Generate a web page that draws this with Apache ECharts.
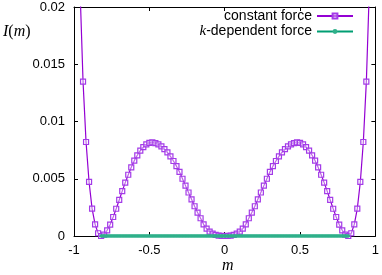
<!DOCTYPE html>
<html>
<head>
<meta charset="utf-8">
<script src="https://cdn.jsdelivr.net/npm/echarts@6/dist/echarts.min.js"></script>
<style>html,body{margin:0;padding:0;background:#fff}#c{width:382px;height:275px}</style>
</head>
<body>
<div id="c"></div>
<script>
// ---- data ----
const mConst = [-1.00,-0.98,-0.96,-0.94,-0.92,-0.90,-0.88,-0.86,-0.84,-0.82,-0.80,-0.78,-0.76,-0.74,-0.72,-0.70,-0.68,-0.66,-0.64,-0.62,-0.60,-0.58,-0.56,-0.54,-0.52,-0.50,-0.48,-0.46,-0.44,-0.42,-0.40,-0.38,-0.36,-0.34,-0.32,-0.30,-0.28,-0.26,-0.24,-0.22,-0.20,-0.18,-0.16,-0.14,-0.12,-0.10,-0.08,-0.06,-0.04,-0.02,0.00,
0.02,0.04,0.06,0.08,0.10,0.12,0.14,0.16,0.18,0.20,0.22,0.24,0.26,0.28,0.30,0.32,0.34,0.36,0.38,0.40,0.42,0.44,0.46,0.48,0.50,0.52,0.54,0.56,0.58,0.60,0.62,0.64,0.66,0.68,0.70,0.72,0.74,0.76,0.78,0.80,0.82,0.84,0.86,0.88,0.90,0.92,0.94,0.96,0.98,1.00];
const iConst = [0.052,0.034,0.0216,0.01348,0.00821,0.00472,0.00239,0.00102,0.00024,0.00000,0.00012,0.00050,0.00100,0.00166,0.00238,0.00315,0.00392,0.00466,0.00535,0.00600,0.00658,0.00705,0.00745,0.00777,0.00800,0.00814,0.00818,0.00812,0.00800,0.00782,0.00758,0.00730,0.00695,0.00655,0.00610,0.00560,0.00500,0.00440,0.00380,0.00320,0.00260,0.00205,0.00155,0.00102,0.00065,0.00038,0.00020,0.00009,0.00003,0.00001,0.00000,
0.00001,0.00003,0.00009,0.00020,0.00038,0.00065,0.00102,0.00155,0.00205,0.00260,0.00320,0.00380,0.00440,0.00500,0.00560,0.00610,0.00655,0.00695,0.00730,0.00758,0.00782,0.00800,0.00812,0.00818,0.00814,0.00800,0.00777,0.00745,0.00705,0.00658,0.00600,0.00535,0.00466,0.00392,0.00315,0.00238,0.00166,0.00100,0.00050,0.00012,0.00000,0.00024,0.00102,0.00239,0.00472,0.00821,0.01348,0.0216,0.034,0.052];
const mK = [-0.82,-0.81,-0.80,-0.79,-0.78,-0.77,-0.76,-0.75,-0.74,-0.73,-0.72,-0.71,-0.70,-0.69,-0.68,-0.67,-0.66,-0.65,-0.64,-0.63,-0.62,-0.61,-0.60,-0.59,-0.58,-0.57,-0.56,-0.55,-0.54,-0.53,-0.52,-0.51,-0.50,-0.49,-0.48,-0.47,-0.46,-0.45,-0.44,-0.43,-0.42,-0.41,-0.40,-0.39,-0.38,-0.37,-0.36,-0.35,-0.34,-0.33,-0.32,-0.31,-0.30,-0.29,-0.28,-0.27,-0.26,-0.25,-0.24,-0.23,-0.22,-0.21,-0.20,-0.19,-0.18,-0.17,-0.16,-0.15,-0.14,-0.13,-0.12,-0.11,-0.10,-0.09,-0.08,-0.07,-0.06,-0.05,-0.04,-0.03,-0.02,-0.01,0.00,
0.01,0.02,0.03,0.04,0.05,0.06,0.07,0.08,0.09,0.10,0.11,0.12,0.13,0.14,0.15,0.16,0.17,0.18,0.19,0.20,0.21,0.22,0.23,0.24,0.25,0.26,0.27,0.28,0.29,0.30,0.31,0.32,0.33,0.34,0.35,0.36,0.37,0.38,0.39,0.40,0.41,0.42,0.43,0.44,0.45,0.46,0.47,0.48,0.49,0.50,0.51,0.52,0.53,0.54,0.55,0.56,0.57,0.58,0.59,0.60,0.61,0.62,0.63,0.64,0.65,0.66,0.67,0.68,0.69,0.70,0.71,0.72,0.73,0.74,0.75,0.76,0.77,0.78,0.79,0.80,0.81,0.82];
const iK = [0,0,0,0,0,0,0,0,0,0,0,0,0,0,0,0,0,0,0,0,0,0,0,0,0,0,0,0,0,0,0,0,0,0,0,0,0,0,0,0,0,0,0,0,0,0,0,0,0,0,0,0,0,0,0,0,0,0,0,0,0,0,0,0,0,0,0,0,0,0,0,0,0,0,0,0,0,0,0,0,0,0,0,
0,0,0,0,0,0,0,0,0,0,0,0,0,0,0,0,0,0,0,0,0,0,0,0,0,0,0,0,0,0,0,0,0,0,0,0,0,0,0,0,0,0,0,0,0,0,0,0,0,0,0,0,0,0,0,0,0,0,0,0,0,0,0,0,0,0,0,0,0,0,0,0,0,0,0,0,0,0,0,0,0,0];
const seriesNames = ['constant force', 'k-dependent force'];
const xTicks = {min: -1, max: 1, step: 0.5};
const yTicks = {min: 0, max: 0.02, step: 0.005};

// ---- chart ----
const pair = (xs, ys) => xs.map((x, i) => [x, ys[i]]);
const FONT = '"Liberation Sans", Arial, sans-serif';
const SERIF = '"Liberation Serif", "DejaVu Serif", serif';
const tickCommon = {show: true, inside: true, length: 4, lineStyle: {color: '#000', width: 1}};
const chart = echarts.init(document.getElementById('c'), null, {renderer: 'canvas'});
chart.setOption({
  animation: false,
  backgroundColor: '#fff',
  grid: {left: 74, right: 6, top: 7, bottom: 39},
  xAxis: [{
    type: 'value', min: xTicks.min, max: xTicks.max, interval: xTicks.step,
    axisLine: {show: true, onZero: false, lineStyle: {color: '#000', width: 1}},
    axisTick: tickCommon, splitLine: {show: false},
    axisLabel: {color: '#000', fontFamily: FONT, fontSize: 13, margin: 8}
  }, {
    type: 'value', position: 'top', min: xTicks.min, max: xTicks.max, interval: xTicks.step,
    axisLine: {show: true, onZero: false, lineStyle: {color: '#000', width: 1}},
    axisTick: tickCommon, splitLine: {show: false}, axisLabel: {show: false}
  }],
  yAxis: [{
    type: 'value', min: yTicks.min, max: yTicks.max, interval: yTicks.step,
    axisLine: {show: true, onZero: false, lineStyle: {color: '#000', width: 1}},
    axisTick: tickCommon, splitLine: {show: false},
    axisLabel: {color: '#000', fontFamily: FONT, fontSize: 13, margin: 9}
  }, {
    type: 'value', position: 'right', min: yTicks.min, max: yTicks.max, interval: yTicks.step,
    axisLine: {show: true, onZero: false, lineStyle: {color: '#000', width: 1}},
    axisTick: tickCommon, splitLine: {show: false}, axisLabel: {show: false}
  }],
  legend: {
    orient: 'vertical', right: 28, top: 9, padding: 0, itemGap: 1,
    itemWidth: 36, itemHeight: 6, align: 'right',
    data: seriesNames,
    formatter: n => n === 'k-dependent force' ? '{i|k}-dependent force' : n,
    textStyle: {color: '#000', fontFamily: FONT, fontSize: 14, lineHeight: 14,
      rich: {i: {fontStyle: 'italic', fontFamily: SERIF, fontSize: 15, lineHeight: 14, color: '#000'}}}
  },
  graphic: [{
    type: 'text', left: 3, top: 24,
    style: {text: '{i|I}{n|(}{i|m}{n|)}', rich: {
      i: {fontStyle: 'italic', fontFamily: SERIF, fontSize: 16, fill: '#000'},
      n: {fontFamily: SERIF, fontSize: 16, fill: '#000'}}}
  }, {
    type: 'text', left: 222, top: 258,
    style: {text: 'm', font: 'italic 16px ' + SERIF, fill: '#000'}
  }],
  series: [{
    name: seriesNames[0], type: 'line', data: pair(mConst, iConst),
    clip: true, symbol: 'rect', symbolSize: 5, showAllSymbol: true,
    lineStyle: {color: '#9400d3', width: 1.2},
    itemStyle: {color: 'rgba(255,255,255,0.4)', borderColor: '#a33be8', borderWidth: 1.2},
    z: 3
  }, {
    name: seriesNames[1], type: 'line', data: pair(mK, iK),
    clip: true, symbol: 'circle', symbolSize: 3.5, showAllSymbol: true,
    lineStyle: {color: '#009e73', width: 2.5},
    itemStyle: {color: '#2fb08a', borderWidth: 0},
    z: 4
  }]
});
</script>
</body>
</html>
